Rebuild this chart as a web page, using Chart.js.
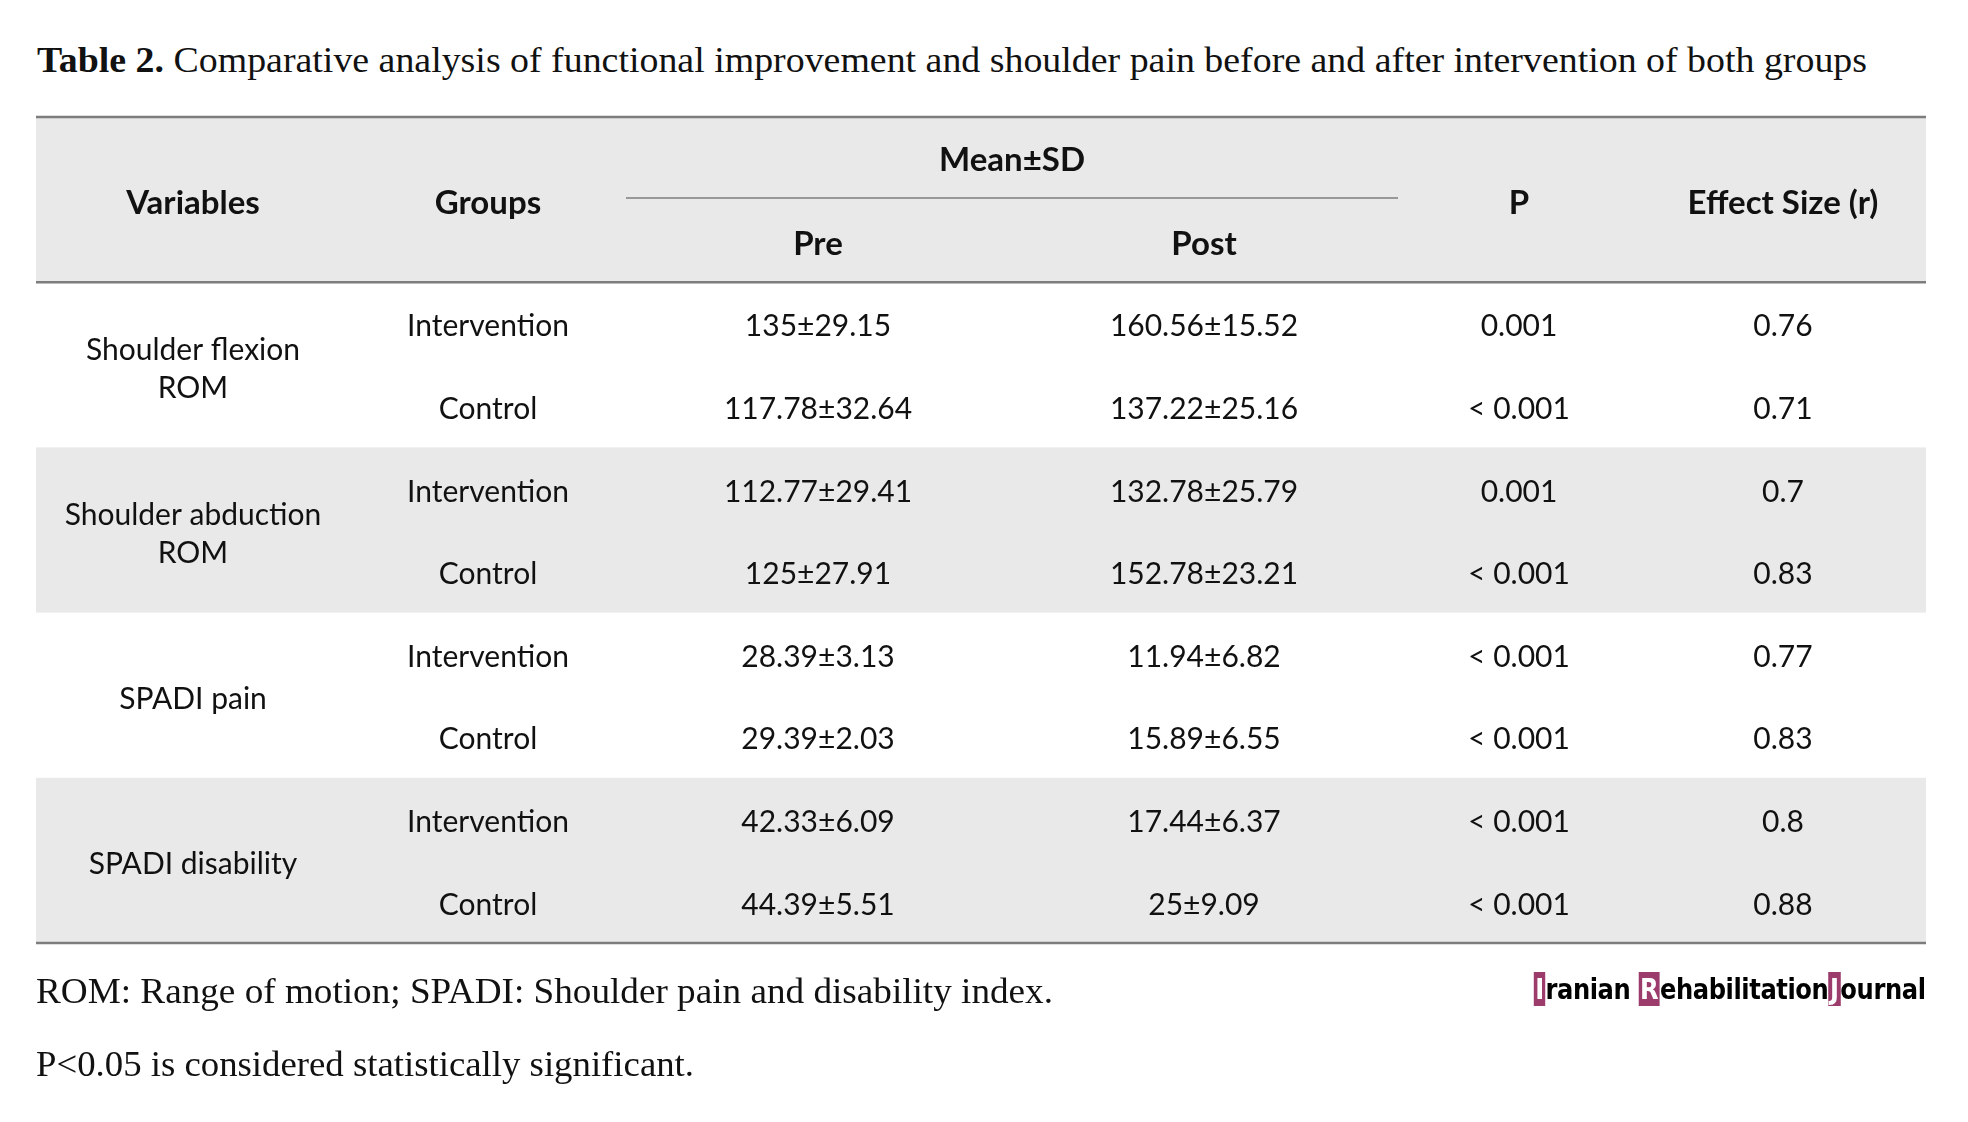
<!DOCTYPE html>
<html>
<head>
<meta charset="utf-8">
<title>Table 2</title>
<script src="https://cdn.jsdelivr.net/npm/chart.js@4.4.1/dist/chart.umd.min.js"></script>
<style>
  html, body { margin: 0; padding: 0; background: #fff; }
  body { width: 1968px; height: 1122px; position: relative; overflow: hidden; }
  #tableChart { position: absolute; left: 0; top: 0; }
  .serif { position: absolute; font-family: "Liberation Serif", "DejaVu Serif", serif; color: #111;
           white-space: nowrap; transform-origin: 0 0; line-height: 1; }
  #logo { position: absolute; font-family: "DejaVu Sans", sans-serif; font-weight: bold; font-size: 29px;
          white-space: nowrap; transform-origin: 100% 0; line-height: 1; color: #000; letter-spacing: -0.5px; }
  #logo span.box { background: #9c3c6c; color: #fff; padding: 0 2px; }
</style>
</head>
<body>

<div id="title" class="serif" style="left:37px; top:42px; font-size:36px;"><b>Table 2.</b> Comparative analysis of functional improvement and shoulder pain before and after intervention of both groups</div>
<canvas id="tableChart" width="1968" height="1122"></canvas>
<div id="note1" class="serif" style="left:36px; top:974px; font-size:35px;">ROM: Range of motion; SPADI: Shoulder pain and disability index.</div>
<div id="note2" class="serif" style="left:36px; top:1047px; font-size:35px;">P&lt;0.05 is considered statistically significant.</div>
<div id="logo" style="right:42px; top:975px;"><span class="box">I</span>ranian <span class="box">R</span>ehabilitation<span class="box">J</span>ournal</div>

<script>
/* =========================================================
   TABLE DATA
========================================================= */

const columnHeaders = ["Variables", "Groups", "Pre", "Post", "P", "Effect Size (r)"];
const spanHeader = "Mean±SD";

const variables = [
  ["Shoulder flexion", "ROM"],
  ["Shoulder abduction", "ROM"],
  ["SPADI pain"],
  ["SPADI disability"]
];
const groups = ["Intervention", "Control"];

const preMean  = [135, 117.78, 112.77, 125, 28.39, 29.39, 42.33, 44.39];
const preSD    = [29.15, 32.64, 29.41, 27.91, 3.13, 2.03, 6.09, 5.51];
const postMean = [160.56, 137.22, 132.78, 152.78, 11.94, 15.89, 17.44, 25];
const postSD   = [15.52, 25.16, 25.79, 23.21, 6.82, 6.55, 6.37, 9.09];
const pValue   = [0.001, 0.001, 0.001, 0.001, 0.001, 0.001, 0.001, 0.001];
const pLess    = [false, true, false, true, true, true, true, true];
const effectR  = [0.76, 0.71, 0.7, 0.83, 0.77, 0.83, 0.8, 0.88];

/* =========================================================
   LAYOUT
========================================================= */

const colWidths = [314, 276, 384, 388, 242, 286];
const colStart = colWidths.map((w, i) => colWidths.slice(0, i).reduce((a, b) => a + b, 0));
const tableWidth = colWidths.reduce((a, b) => a + b, 0);
const colCenter = i => colStart[i] + colWidths[i] / 2;

const HEADER_ROWS = 2;
const BODY_ROWS = preMean.length;
const TOTAL_ROWS = HEADER_ROWS + BODY_ROWS;

const BAND_COLOR = "#e9e9e9";
const RULE_COLOR = "#7d7d7d";
const TEXT_COLOR = "#111111";
const CELL_FONT = "30px Lato, 'Open Sans', sans-serif";
const HEAD_FONT = "bold 33px Lato, 'Open Sans', sans-serif";

function pm(m, s) {
  return `${m}±${s}`;
}

/* =========================================================
   CELL POINTS
========================================================= */

const headerCells = [
  { x: colCenter(0), y: 1.04, text: columnHeaders[0] },
  { x: colCenter(1), y: 1.04, text: columnHeaders[1] },
  { x: colStart[2] + (colWidths[2] + colWidths[3]) / 2, y: 0.53, text: spanHeader },
  { x: colCenter(2), y: 1.54, text: columnHeaders[2] },
  { x: colCenter(3), y: 1.54, text: columnHeaders[3] },
  { x: colCenter(4), y: 1.04, text: columnHeaders[4] },
  { x: colCenter(5), y: 1.04, text: columnHeaders[5] }
];

const bodyCells = [];
preMean.forEach((_, i) => {
  const y = HEADER_ROWS + i + 0.54;
  bodyCells.push({ x: colCenter(1), y, text: groups[i % 2] });
  bodyCells.push({ x: colCenter(2), y, text: pm(preMean[i], preSD[i]) });
  bodyCells.push({ x: colCenter(3), y, text: pm(postMean[i], postSD[i]) });
  bodyCells.push({ x: colCenter(4), y, text: (pLess[i] ? "< " : "") + pValue[i] });
  bodyCells.push({ x: colCenter(5), y, text: String(effectR[i]) });
});

variables.forEach((lines, g) => {
  const mid = HEADER_ROWS + g * 2 + 1.05;
  lines.forEach((line, k) => {
    bodyCells.push({ x: colCenter(0), y: mid + (k - (lines.length - 1) / 2) * 0.46, text: line });
  });
});

/* =========================================================
   TABLE PLUGIN (bands, rules, cell text)
========================================================= */

const tablePlugin = {
  id: "tableDraw",
  beforeDatasetsDraw(chart) {
    const { ctx, chartArea, scales } = chart;
    const yPx = v => scales.y.getPixelForValue(v);
    const xPx = v => scales.x.getPixelForValue(v);

    ctx.save();
    ctx.fillStyle = BAND_COLOR;
    // header band + every second variable group
    const bands = [[0, HEADER_ROWS]];
    variables.forEach((_, g) => {
      if (g % 2 === 1) bands.push([HEADER_ROWS + g * 2, HEADER_ROWS + g * 2 + 2]);
    });
    bands.forEach(([a, b]) => {
      ctx.fillRect(chartArea.left, yPx(a), chartArea.right - chartArea.left, yPx(b) - yPx(a));
    });

    ctx.strokeStyle = RULE_COLOR;
    ctx.lineWidth = 2.5;
    [0, HEADER_ROWS, TOTAL_ROWS].forEach(r => {
      ctx.beginPath();
      ctx.moveTo(chartArea.left, yPx(r));
      ctx.lineTo(chartArea.right, yPx(r));
      ctx.stroke();
    });

    // rule under Mean±SD
    ctx.lineWidth = 1.6;
    ctx.beginPath();
    ctx.moveTo(xPx(colStart[2]), yPx(0.98));
    ctx.lineTo(xPx(colStart[4]), yPx(0.98));
    ctx.stroke();
    ctx.restore();
  },
  afterDatasetsDraw(chart) {
    const { ctx } = chart;
    ctx.save();
    ctx.textAlign = "center";
    ctx.textBaseline = "middle";
    ctx.fillStyle = TEXT_COLOR;
    chart.data.datasets.forEach((ds, di) => {
      const meta = chart.getDatasetMeta(di);
      ctx.font = ds.cellFont;
      meta.data.forEach((pt, i) => {
        ctx.fillText(ds.data[i].text, pt.x, pt.y);
      });
    });
    ctx.restore();
  }
};

/* =========================================================
   CHART
========================================================= */

new Chart(document.getElementById("tableChart"), {
  type: "scatter",
  data: {
    datasets: [
      { label: "header", data: headerCells, cellFont: HEAD_FONT, pointRadius: 0 },
      { label: "body", data: bodyCells, cellFont: CELL_FONT, pointRadius: 0 }
    ]
  },
  options: {
    responsive: false,
    animation: false,
    devicePixelRatio: 1,
    events: [],
    layout: { padding: { left: 36, right: 42, top: 117, bottom: 179 } },
    plugins: { legend: { display: false }, tooltip: { enabled: false } },
    scales: {
      x: { type: "linear", display: false, min: 0, max: tableWidth },
      y: { type: "linear", display: false, min: 0, max: TOTAL_ROWS, reverse: true }
    }
  },
  plugins: [tablePlugin]
});

/* =========================================================
   FIT SERIF TEXT WIDTHS
========================================================= */

function fitWidth(id, target) {
  const el = document.getElementById(id);
  const w = el.getBoundingClientRect().width;
  if (w > 0) el.style.transform = `scaleX(${target / w})`;
}
fitWidth("title", 1830);
fitWidth("note1", 1017);
fitWidth("note2", 658);
fitWidth("logo", 392);
</script>
</body>
</html>
